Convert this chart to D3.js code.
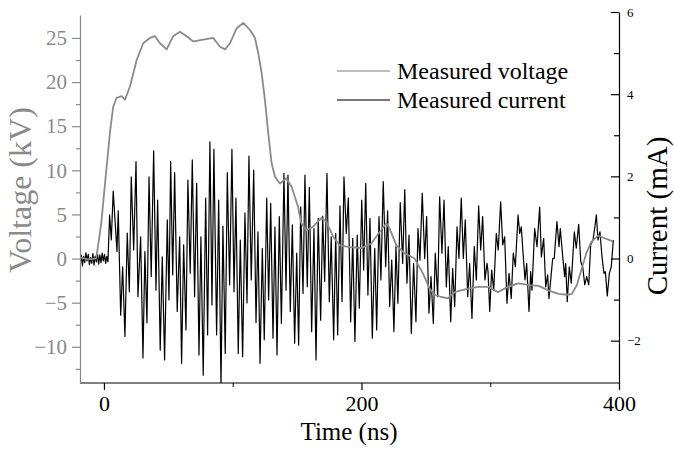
<!DOCTYPE html>
<html>
<head>
<meta charset="utf-8">
<script src="https://cdn.jsdelivr.net/npm/d3@7"></script>
<style>
  body { margin: 0; background: #fff; }
  svg { display: block; }
  text { font-family: "Liberation Serif", "Times New Roman", serif; }
</style>
</head>
<body>
<svg id="chart" width="674" height="449"></svg>
<script>
// Current probe record (ns, mA)
const currentTimeNs = [
  -18.5,-17.6,-16.7,-15.8,-14.9,-14.0,-13.1,-12.2,-11.3,-10.4,-9.5,-8.6,-7.7,-6.8,-5.9,-5.0,-4.1,-3.2,-2.3,-1.4,-0.5,0.4,1.3,2.2,3.1,
  4.4,5.7,7.2,10.1,11.1,13.0,14.5,16.3,18.1,19.7,
  21.2,23.1,24.9,26.4,28.5,30.3,31.8,33.4,35.0,36.7,
  38.6,40.4,41.7,43.7,45.3,47.1,49.2,50.5,51.8,53.4,
  54.9,56.9,58.8,60.3,61.9,63.7,65.2,67.0,68.6,70.4,
  72.0,73.8,75.3,77.1,79.0,80.5,82.3,83.9,85.4,87.5,
  89.1,90.9,92.4,94.2,95.8,97.6,99.4,101.0,102.5,104.3,
  105.9,107.7,109.5,111.1,112.6,114.4,116.3,118.1,119.6,121.2,
  123.0,124.5,126.4,127.9,129.5,131.3,132.8,134.4,136.2,137.8,
  139.8,141.4,142.9,144.7,146.3,148.1,149.7,151.2,152.8,154.6,
  156.1,157.9,159.5,161.3,163.1,164.7,166.4,168.3,169.9,171.4,
  173.2,175.0,176.5,178.4,180.0,181.5,183.3,184.9,186.4,188.2,
  189.8,191.6,193.2,194.9,196.7,198.3,200.2,201.7,203.3,205.0,
  206.6,208.4,210.3,211.8,213.6,215.1,216.9,218.8,220.3,221.9,
  223.5,225.2,226.8,228.3,230.1,232.0,233.6,235.3,236.9,238.7,
  240.5,242.3,243.9,245.4,247.2,249.1,250.6,252.4,254.0,255.8,
  257.3,259.2,260.7,262.5,264.1,265.9,267.4,269.3,270.8,272.4,
  274.2,275.7,277.5,279.1,280.6,282.5,284.0,285.8,287.6,289.2,
  291.0,292.6,294.1,295.9,297.5,298.3,299.6,301.1,302.7,304.7,
  306.2,308.1,309.7,311.2,313.0,314.6,316.3,317.9,319.5,321.6,
  322.9,324.1,325.7,327.0,328.3,330.1,331.4,332.4,334.5,336.3,
  338.4,339.7,341.5,343.1,344.6,345.6,347.2,348.5,349.7,351.8,
  353.4,354.4,356.3,357.8,358.6,359.8,361.4,362.9,365.3,366.8,
  368.7,370.3,371.8,373.4,374.9,376.5,378.0,379.8,381.1,382.4,
  383.7,385.2,386.8,388.3,389.4,390.9,392.5,394.0,395.6
];
const currentMA = [
  -0.12,0.08,-0.18,0.05,-0.10,0.14,-0.06,0.10,-0.15,0.02,-0.12,0.12,-0.16,0.06,-0.08,0.11,-0.14,0.09,-0.10,0.13,-0.06,0.10,-0.12,0.05,-0.08,
  1.06,0.45,1.64,0.17,1.16,-1.38,-0.20,-1.90,0.62,-0.81,
  1.99,0.21,2.36,-0.93,0.53,-2.42,0.17,-1.57,1.99,-0.44,
  2.62,-0.77,1.42,-2.23,0.04,-2.47,0.94,-1.01,2.36,-0.40,
  2.09,-1.29,0.53,-2.55,0.33,-1.74,1.91,-0.36,2.40,-0.93,
  1.83,-2.35,0.53,-2.84,1.47,-1.86,2.84,-1.13,2.66,-1.86,
  1.42,-3.10,0.79,-2.31,2.09,-0.64,2.66,-0.81,1.47,-2.31,
  0.45,-2.39,1.11,-1.08,2.49,-0.52,2.15,-1.56,0.65,-2.55,
  0.25,-1.98,1.47,-1.01,1.34,-1.94,0.77,-2.35,1.02,-1.58,
  2.07,-0.77,2.03,-1.29,0.82,-2.06,0.13,-2.11,1.26,-0.85,
  2.03,-0.69,1.73,-1.78,0.73,-2.47,0.98,-1.50,1.03,-0.56,
  2.07,-1.05,0.53,-1.98,0.61,-1.86,1.28,-1.05,1.99,0.61,
  1.47,-1.54,0.49,-2.02,0.57,-1.21,1.42,-0.28,1.83,-0.89,
  0.98,-1.94,0.25,-1.74,1.02,-0.52,1.87,-0.20,1.16,-1.17,
  -0.04,-1.78,0.29,-1.09,1.36,-0.12,1.68,-0.60,0.57,-1.82,
  -0.12,-1.54,0.73,-0.04,1.59,0.00,1.02,-1.33,-0.44,-1.58,
  0.13,-0.93,1.50,0.13,1.42,-0.69,0.29,-1.54,-0.24,-1.17,
  0.77,0.00,1.47,0.00,0.94,-0.93,-0.12,-1.46,0.29,-0.52,
  1.28,0.21,1.02,-0.52,-0.12,-0.32,-1.29,-0.28,-0.77,0.61,
  0.21,1.38,0.33,0.53,-1.09,-0.36,-0.97,0.13,-0.20,1.06,
  0.61,0.77,0.04,-0.52,-0.12,-1.29,-0.32,-0.77,0.73,0.29,
  1.25,0.04,0.49,-0.69,-0.40,-0.97,-0.44,0.00,0.00,0.90,
  0.29,0.73,0.04,-0.44,-0.12,-1.05,-0.20,-0.60,0.65,0.25,
  0.83,-0.08,-0.20,-0.64,-0.44,-0.64,0.33,0.45,0.73,1.06,
  0.45,0.65,0.04,-0.36,-0.32,-0.91,-0.36,-0.20,0.45
];

// Voltage probe record (ns, kV)
const voltageTimeNs = [
  -18.6,-12.0,-6.0,-2.1,1.8,4.9,7.2,9.8,13.7,16.3,20.2,25.4,30.5,35.7,39.6,43.5,48.7,53.8,59.0,64.2,
  69.4,77.1,84.9,90.1,94.0,97.9,103.1,108.2,113.4,117.3,119.8,122.5,125.0,127.6,130.2,132.8,135.1,136.7,141.6,145.8,
  150.7,153.3,157.2,162.3,168.8,172.7,177.9,183.1,191.1,199.9,207.6,214.1,219.3,221.9,227.1,233.5,241.3,247.8,252.9,256.8,
  261.0,267.2,272.4,280.2,290.5,298.3,306.0,313.8,321.6,330.9,337.5,345.2,353.0,359.5,363.4,367.3,370.7,374.6,378.5,383.7,
  388.9,392.8,395.3
];
const voltageKV = [
  0.1,-0.1,0.0,4.0,10.0,14.6,17.2,18.2,18.4,18.0,19.5,22.5,24.4,25.0,25.2,24.4,23.7,25.2,25.7,25.2,
  24.6,24.8,25.0,24.0,23.7,24.4,26.1,26.7,25.9,25.0,23.3,21.0,18.0,14.2,10.8,9.3,8.8,8.5,9.1,8.1,
  5.9,4.0,3.2,3.6,4.6,4.2,2.5,1.5,1.3,1.2,1.7,3.0,4.0,3.4,1.5,0.6,0.0,-1.7,-3.4,-4.1,
  -4.3,-4.5,-3.8,-3.5,-3.2,-3.2,-3.8,-3.2,-2.8,-3.0,-3.1,-3.6,-4.0,-4.1,-4.0,-3.0,-1.3,0.6,1.9,2.6,
  2.3,2.1,1.9
];

const timeTicks = [0, 200, 400];
const timeMinorTicks = [100, 300];
const voltageTicks = [-10, -5, 0, 5, 10, 15, 20, 25];
const voltageMinorTicks = [-12.5, -7.5, -2.5, 2.5, 7.5, 12.5, 17.5, 22.5];
const currentTicks = [-2, 0, 2, 4, 6];
const currentMinorTicks = [-1, 1, 3, 5];
const seriesNames = ["Measured voltage", "Measured current"];

const plot = { left: 80, right: 619, top: 12, bottom: 383 };
const voltColor = "#8a8a8a";

const svg = d3.select("#chart");

const x = d3.scaleLinear().domain([-18.6, 400]).range([plot.left, plot.right]);
const yV = d3.scaleLinear().domain([-14.1, 27.6]).range([plot.bottom, 15]);
const yI = d3.scaleLinear().domain([-3.03, 6]).range([plot.bottom, plot.top]);

svg.append("clipPath").attr("id", "plotClip")
  .append("rect")
  .attr("x", plot.left).attr("y", plot.top)
  .attr("width", plot.right - plot.left).attr("height", plot.bottom - plot.top);

const traces = svg.append("g").attr("clip-path", "url(#plotClip)");

const currentLine = d3.line()
  .x((d, i) => x(currentTimeNs[i]))
  .y(d => yI(d));
traces.append("path")
  .datum(currentMA)
  .attr("fill", "none")
  .attr("stroke", "#000")
  .attr("stroke-width", 1.2)
  .attr("stroke-linejoin", "round")
  .attr("d", currentLine);

const voltageLine = d3.line()
  .x((d, i) => x(voltageTimeNs[i]))
  .y(d => yV(d));
traces.append("path")
  .datum(voltageKV)
  .attr("fill", "none")
  .attr("stroke", voltColor)
  .attr("stroke-width", 1.8)
  .attr("stroke-linejoin", "round")
  .attr("d", voltageLine);

// Bottom time axis
const xAxis = svg.append("g").attr("transform", `translate(0,${plot.bottom})`)
  .call(d3.axisBottom(x).tickValues(timeTicks).tickSize(7).tickSizeOuter(0).tickPadding(5));
svg.append("g").attr("transform", `translate(0,${plot.bottom})`)
  .call(d3.axisBottom(x).tickValues(timeMinorTicks).tickSize(4).tickFormat(""))
  .select(".domain").remove();
xAxis.selectAll("text").attr("font-size", 22).attr("font-family", "Liberation Serif").attr("fill", "#000");
xAxis.selectAll("line, path").attr("stroke", "#000").attr("stroke-width", 1.2);
xAxis.select(".domain").attr("d", `M${plot.left},0H${plot.right}`);

// Left voltage axis
const vAxis = svg.append("g").attr("transform", `translate(${plot.left},0)`)
  .call(d3.axisLeft(yV).tickValues(voltageTicks).tickSize(8).tickSizeOuter(0).tickPadding(5));
const vMinor = svg.append("g").attr("transform", `translate(${plot.left},0)`)
  .call(d3.axisLeft(yV).tickValues(voltageMinorTicks).tickSize(4).tickFormat(""));
vMinor.select(".domain").remove();
vAxis.selectAll("line, path").attr("stroke", voltColor).attr("stroke-width", 1.2);
vMinor.selectAll("line").attr("stroke", voltColor).attr("stroke-width", 1.2);
vAxis.selectAll("text").attr("font-size", 21).attr("font-family", "Liberation Serif").attr("fill", voltColor);

// Right current axis (ticks point inward)
const iAxis = svg.append("g").attr("transform", `translate(${plot.right},0)`)
  .call(d3.axisRight(yI).tickValues(currentTicks).tickSize(-8).tickSizeOuter(0).tickPadding(8));
const iMinor = svg.append("g").attr("transform", `translate(${plot.right},0)`)
  .call(d3.axisRight(yI).tickValues(currentMinorTicks).tickSize(-5).tickFormat(""));
iMinor.select(".domain").remove();
iAxis.selectAll("line, path").attr("stroke", "#000").attr("stroke-width", 1.2);
iMinor.selectAll("line").attr("stroke", "#000").attr("stroke-width", 1.2);
iAxis.selectAll("text").attr("font-size", 13).attr("font-family", "Liberation Serif").attr("fill", "#000");

// Axis titles
svg.append("text")
  .attr("transform", "translate(31,190) rotate(-90)")
  .attr("text-anchor", "middle")
  .attr("font-size", 32)
  .attr("fill", voltColor)
  .text("Voltage (kV)");
svg.append("text")
  .attr("transform", "translate(667,216) rotate(-90)")
  .attr("text-anchor", "middle")
  .attr("font-size", 29)
  .attr("fill", "#000")
  .text("Current (mA)");
svg.append("text")
  .attr("x", 349).attr("y", 440)
  .attr("text-anchor", "middle")
  .attr("font-size", 25)
  .attr("fill", "#000")
  .text("Time (ns)");

// Legend
const legendColors = ["#a8a8a8", "#4a4a4a"];
const legend = svg.append("g");
seriesNames.forEach((name, i) => {
  const yy = 71 + i * 29;
  legend.append("line")
    .attr("x1", 337).attr("x2", 390).attr("y1", yy).attr("y2", yy)
    .attr("stroke", legendColors[i]).attr("stroke-width", 1.4);
  legend.append("text")
    .attr("x", 397).attr("y", yy + 8)
    .attr("font-size", 24)
    .attr("fill", "#000")
    .text(name);
});
</script>
</body>
</html>
